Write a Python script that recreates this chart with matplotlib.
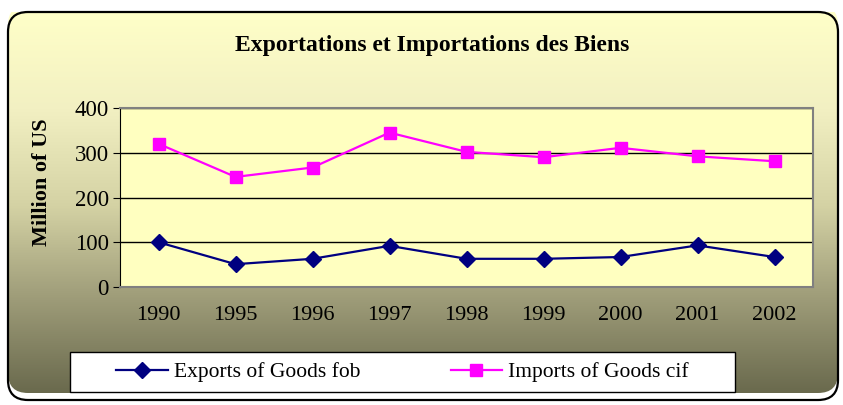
import numpy as np
import matplotlib.pyplot as plt
from matplotlib.patches import FancyBboxPatch, Rectangle
from matplotlib.colors import LinearSegmentedColormap

years = ['1990', '1995', '1996', '1997', '1998', '1999', '2000', '2001', '2002']
exports = [100, 51, 63, 92, 63, 63, 67, 93, 67]
imports = [320, 246, 267, 345, 302, 290, 311, 292, 281]

plt.rcParams['font.family'] = ['Liberation Serif', 'DejaVu Serif']

W, H = 843, 405
fig = plt.figure(figsize=(W / 100, H / 100), dpi=100, facecolor='w')

# background with rounded frame and vertical gradient
bg = fig.add_axes([0, 0, 1, 1])
bg.set_xlim(0, W)
bg.set_ylim(H, 0)
bg.axis('off')
cmap = LinearSegmentedColormap.from_list('bg', [
    (0.0, '#FFFFC8'), (0.25, '#F2F0C2'), (0.5, '#D4D2A4'),
    (0.72, '#A2A07C'), (1.0, '#66664A')])
grad = np.linspace(0, 1, 256).reshape(-1, 1)
frame = FancyBboxPatch((8, 12), 830, 388, boxstyle='round,pad=0,rounding_size=20',
                       facecolor='none', edgecolor='black', linewidth=1.6, zorder=3)
img = bg.imshow(grad, cmap=cmap, extent=(8, 838, 400, 12), aspect='auto', zorder=1)
img.set_clip_path(frame)
bg.add_patch(frame)
bg.add_patch(Rectangle((70, 352), 665, 40, facecolor='white', edgecolor='black',
                       linewidth=1, zorder=2))

fig.text(432 / W, 1 - 45 / H, 'Exportations et Importations des Biens',
         ha='center', va='center', fontsize=17, fontweight='bold')
fig.text(42 / W, 1 - 182 / H, 'Million of US', rotation=90,
         ha='center', va='center', fontsize=16, fontweight='bold')

ax = fig.add_axes([120 / W, 1 - 287 / H, (813 - 120) / W, (287 - 108) / H])
ax.set_facecolor('#FFFFC0')
x = np.arange(len(years))
ax.plot(x, exports, color='#000080', marker='D', markersize=8, linewidth=1.6,
        label='Exports of Goods fob', zorder=4)
ax.plot(x, imports, color='#FF00FF', marker='s', markersize=8.5, linewidth=1.6,
        label='Imports of Goods cif', zorder=4)
ax.set_xlim(-0.5, len(years) - 0.5)
ax.set_ylim(0, 400)
ax.set_yticks([0, 100, 200, 300, 400])
ax.set_xticks(x)
ax.set_xticklabels(years)
ax.yaxis.grid(True, color='black', linewidth=1)
ax.set_axisbelow(True)
ax.tick_params(axis='x', length=0, pad=14, labelsize=16)
ax.tick_params(axis='y', length=5, direction='out', labelsize=16.5, pad=3)
for side in ['top', 'right', 'bottom']:
    ax.spines[side].set_color('#808080')
    ax.spines[side].set_linewidth(1.5)
ax.spines['left'].set_color('black')

leg = fig.legend(loc='center left', bbox_to_anchor=(116 / W, 1 - 372 / H),
                 ncol=2, frameon=False, fontsize=15.5, handlelength=2.4,
                 handletextpad=0.28, columnspacing=4.2, borderaxespad=0,
                 borderpad=0)

fig.savefig('out.png', dpi=100)
